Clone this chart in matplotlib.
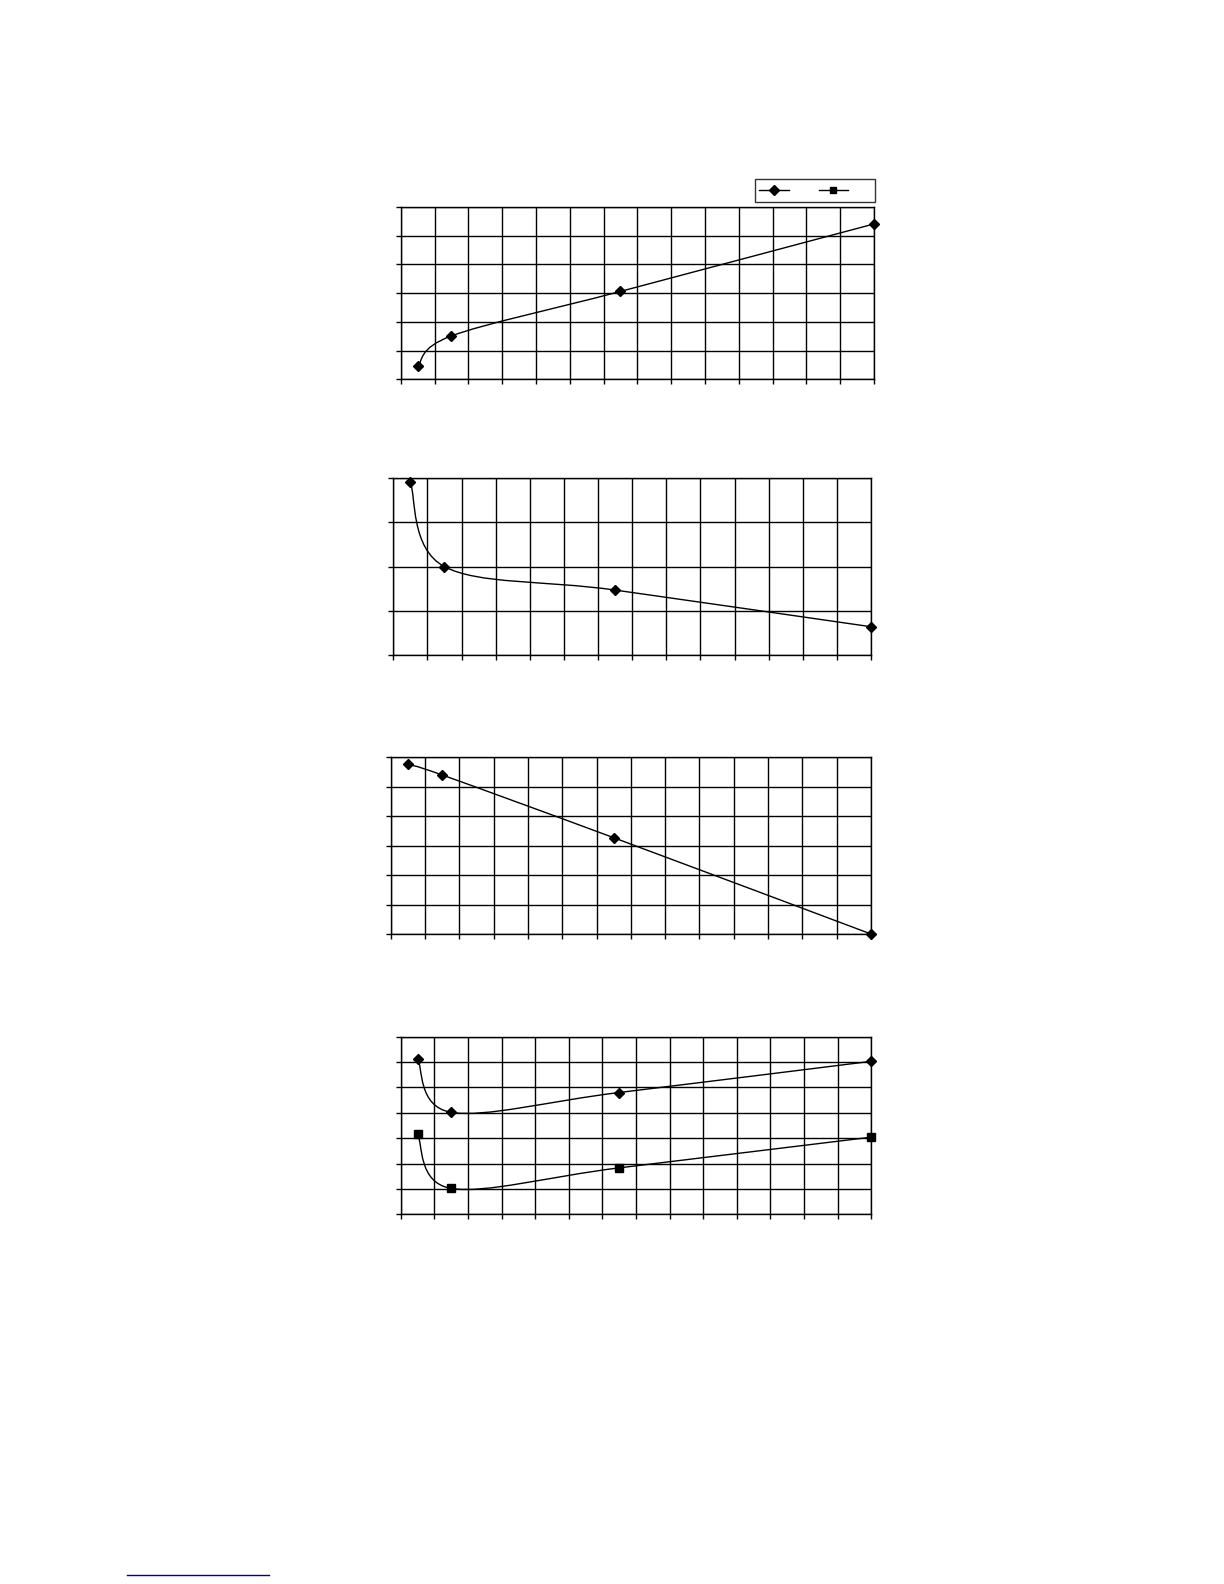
import matplotlib
matplotlib.use("Agg")
import matplotlib.pyplot as plt
import numpy as np
from matplotlib.path import Path
from matplotlib.patches import PathPatch
from matplotlib.lines import Line2D

# valores (4 paneles, eje x comun)
x_puntos = [0.5, 1.5, 6.5, 14]
panel1_y = [0.45, 1.51, 3.06, 5.41]
panel2_y = [3.91, 2.00, 1.47, 0.64]
panel3_y = [5.76, 5.40, 3.27, 0.00]
panel4_rombo = [6.14, 4.02, 4.80, 6.03]
panel4_cuadro = [3.15, 1.02, 1.83, 3.04]

x_max = 14
y_max = [6, 4, 6, 7]

W, H = 1224, 1584


def ruta_suave(xs, ys):
    # linea suavizada tipo Excel: bezier por tramos (catmull-rom)
    pts = np.column_stack([xs, ys]).astype(float)
    n = len(pts)
    verts = [pts[0]]
    codes = [Path.MOVETO]
    for i in range(n - 1):
        p0 = pts[i - 1] if i > 0 else pts[i]
        p1 = pts[i]
        p2 = pts[i + 1]
        p3 = pts[i + 2] if i + 2 < n else pts[i + 1]
        verts += [p1 + (p2 - p0) / 6, p2 - (p3 - p1) / 6, p2]
        codes += [Path.CURVE4] * 3
    return Path(verts, codes)


def crear_ejes(fig, izq, der, arriba, abajo, ymax):
    ax = fig.add_axes([izq / W, 1 - abajo / H, (der - izq) / W, (abajo - arriba) / H])
    ax.set_xlim(0, x_max)
    ax.set_ylim(0, ymax)
    ax.set_xticks(range(0, x_max + 1))
    ax.set_yticks(range(0, ymax + 1))
    ax.set_xticklabels([])
    ax.set_yticklabels([])
    ax.tick_params(direction="out", length=3.5, width=1.0, color="black")
    ax.grid(True, color="black", linewidth=1.0)
    for s in ax.spines.values():
        s.set_color("black")
        s.set_linewidth(1.0)
    return ax


def serie(ax, ys, marcador, tam):
    ax.add_patch(PathPatch(ruta_suave(x_puntos, ys), facecolor="none",
                           edgecolor="black", linewidth=1.0, zorder=3, clip_on=False))
    ax.plot(x_puntos, ys, linestyle="none", marker=marcador, markersize=tam,
            color="black", zorder=4, clip_on=False)


fig = plt.figure(figsize=(W / 100, H / 100), dpi=100)

ax1 = crear_ejes(fig, 400.7, 874, 207, 379.3, y_max[0])
serie(ax1, panel1_y, "D", 5)

ax2 = crear_ejes(fig, 393.3, 871, 478.3, 655, y_max[1])
serie(ax2, panel2_y, "D", 5)

ax3 = crear_ejes(fig, 390.7, 871, 757.3, 934, y_max[2])
serie(ax3, panel3_y, "D", 5)

ax4 = crear_ejes(fig, 400.7, 871.3, 1036.7, 1214.3, y_max[3])
serie(ax4, panel4_rombo, "D", 5)
serie(ax4, panel4_cuadro, "s", 5.5)

# leyenda del primer panel (sin texto visible)
h1 = Line2D([], [], color="black", linewidth=1.0, marker="D", markersize=5)
h2 = Line2D([], [], color="black", linewidth=1.0, marker="s", markersize=5)
ley = ax1.legend([h1, h2], [" ", " "], ncol=2, loc="upper right",
                 bbox_to_anchor=(875 / W, 1 - 179.3 / H), bbox_transform=fig.transFigure,
                 fontsize=10, borderpad=0.3, handlelength=2.15, handletextpad=1.3,
                 columnspacing=0.5, borderaxespad=0, fancybox=False, numpoints=1)
ley.get_frame().set_edgecolor("black")
ley.get_frame().set_linewidth(1.0)

# linea azul al pie de pagina
fig.add_artist(Line2D([127.3 / W, 269 / W], [1 - 1575 / H, 1 - 1575 / H],
                      color="#000099", linewidth=1.0))

fig.savefig("out.png", dpi=100)
